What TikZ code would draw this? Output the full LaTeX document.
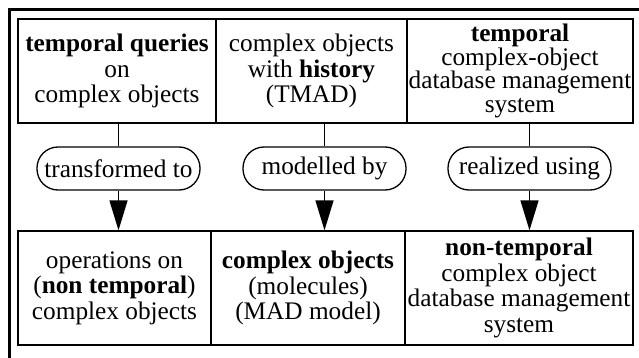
\documentclass[tikz,border=0pt]{standalone}
\usepackage{fontspec}
\setmainfont{Liberation Serif}
\usepackage{tikz}
\usetikzlibrary{arrows.meta,positioning,calc}
\tikzset{
  objbox/.style={draw, line width=1.3pt, inner sep=0pt, align=center,
                 font=\fontsize{25.3}{25.5}\selectfont},
  relpill/.style={draw, line width=1.3pt, rounded corners=21pt, inner sep=0pt,
                  minimum width=163pt, minimum height=43pt,
                  font=\fontsize{25.3}{25.5}\selectfont},
  flowarrow/.style={line width=1.3pt, -{Triangle[length=30pt,width=18pt]}},
  framerule/.style={line width=3pt}
}
\begin{document}
\begin{tikzpicture}[x=1pt,y=-1pt]
    \useasboundingbox (0,0) rectangle (639,358);
    \def\yT{71} \def\yP{168.5} \def\yB{288}

    % outer frame (top and left edge)
    \coordinate (FL) at (9.5,358);
    \coordinate (FC) at (9.5,10);
    \coordinate (FR) at (639,10);
    \draw[framerule] (FL) -- (FC) -- (FR);

    % upper row
    \node[objbox, minimum width=198pt, minimum height=104pt] (T1) at (117,\yT)
      {\textbf{temporal queries}\\on\\complex objects};
    \node[objbox, minimum width=191pt, minimum height=104pt] (T2) at (311.5,\yT)
      {complex objects\\with \textbf{history}\\(TMAD)};
    \node[objbox, minimum width=226pt, minimum height=104pt,
          font=\fontsize{25.3}{23.5}\selectfont] (T3) at (520,\yT)
      {\textbf{temporal}\\complex-object\\database management\\system};

    % relations
    \node[relpill] (P1) at (118.5,\yP) {transformed to};
    \node[relpill] (P2) at (324.5,\yP) {modelled by};
    \node[relpill] (P3) at (529.5,\yP) {realized using};

    % lower row
    \node[objbox, minimum width=193pt, minimum height=114pt] (B1) at (114.5,\yB)
      {operations on\\(\textbf{non temporal})\\complex objects};
    \node[objbox, minimum width=194pt, minimum height=114pt] (B2) at (308,\yB)
      {\textbf{complex objects}\\(molecules)\\(MAD model)};
    \node[objbox, minimum width=228pt, minimum height=114pt] (B3) at (519,\yB)
      {\textbf{non-temporal}\\complex object\\database management\\system};

    % connectors
    \foreach \p/\t/\b in {P1/T1/B1, P2/T2/B2, P3/T3/B3} {
      \draw[line width=1.3pt] (\p.north |- \t.south) -- (\p.north);
      \draw[flowarrow] (\p.south) -- (\p.south |- \b.north);
    }
\end{tikzpicture}
\end{document}
